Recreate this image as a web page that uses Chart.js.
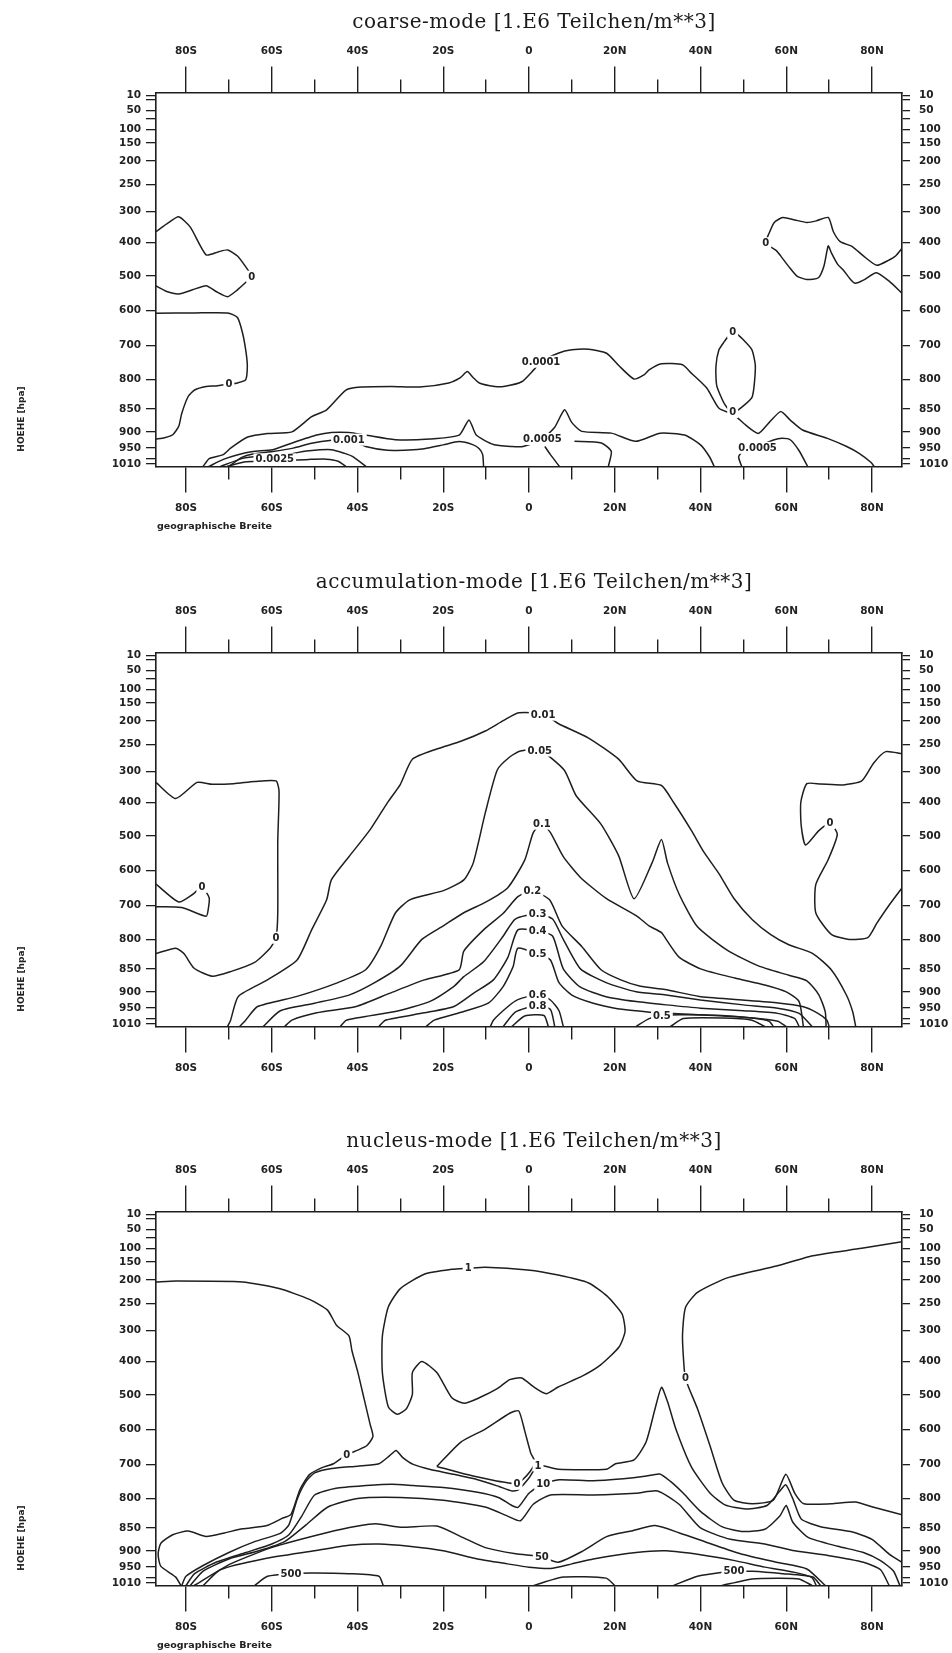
<!DOCTYPE html>
<html lang="de">
<head>
<meta charset="UTF-8">
<title>Teilchenzahl coarse / accumulation / nucleus mode</title>
<script src="https://cdn.jsdelivr.net/npm/chart.js"></script>
<style>
  body { margin: 0; background: #fff; }
  #page { position: relative; width: 952px; height: 1653px; overflow: hidden; }
  .panel { position: absolute; left: 0; width: 952px; height: 545px; }
  .panel canvas { position: absolute; left: 0; top: 0; }
  .titel { position: absolute; left: 234px; width: 600px; top: 9px; text-align: center;
           font: 20px "DejaVu Serif"; letter-spacing: 0.5px; color: #1a1a1a; white-space: nowrap; }
  .hoehe { position: absolute; left: -14px; top: 414px; width: 70px; text-align: center;
           transform: rotate(-90deg); font: bold 9px "DejaVu Sans"; color: #222; white-space: nowrap; }
  .breite { position: absolute; left: 157px; top: 520px; font: bold 9.5px "DejaVu Sans"; color: #222; white-space: nowrap; }
</style>
</head>
<body>
<div id="page">
  <div class="panel" style="top:0px">
    <canvas id="c1" width="952" height="545"></canvas>
    <div class="titel">coarse-mode [1.E6 Teilchen/m**3]</div>
    <div class="hoehe">HOEHE [hpa]</div>
    <div class="breite">geographische Breite</div>
  </div>
  <div class="panel" style="top:560px">
    <canvas id="c2" width="952" height="545"></canvas>
    <div class="titel">accumulation-mode [1.E6 Teilchen/m**3]</div>
    <div class="hoehe">HOEHE [hpa]</div>
  </div>
  <div class="panel" style="top:1119px">
    <canvas id="c3" width="952" height="545"></canvas>
    <div class="titel">nucleus-mode [1.E6 Teilchen/m**3]</div>
    <div class="hoehe">HOEHE [hpa]</div>
    <div class="breite">geographische Breite</div>
  </div>
</div>

<script>
// Achsen
const LAT_MAJOR = [-80, -60, -40, -20, 0, 20, 40, 60, 80];
const LAT_MINOR = [-70, -50, -30, -10, 10, 30, 50, 70];
const LAT_LABELS = ['80S', '60S', '40S', '20S', '0', '20N', '40N', '60N', '80N'];
const P_TICKS = [10, 30, 50, 70, 100, 150, 200, 250, 300, 400, 500, 600, 700, 800, 850, 900, 950, 990, 1010];
const P_LABELS = ['10', '', '50', '', '100', '150', '200', '250', '300', '400', '500', '600', '700', '800', '850', '900', '950', '', '1010'];

// coarse-mode: Isolinien als [Breite, Druck]
const coarseLines = [
  [[-87,365],[-84,335],[-81.7,317],[-79,350],[-75.3,437],[-72.5,428],[-70.3,422],[-68,440],[-66.1,472],[-64.7,502],[-66.1,519],[-68,540],[-70.3,560],[-73,545],[-75.3,528],[-78.5,540],[-81.7,552],[-84.5,545],[-87,529]],
  [[-87,608],[-78,607],[-70.3,607],[-68,620],[-66.8,665],[-66,720],[-65.7,762],[-66.1,801],[-68,806],[-70,808],[-73,811],[-75.3,812],[-78,818],[-79.5,829],[-81,860],[-81.7,888],[-83.1,909],[-85,918],[-87,922]],
  [[87,417],[85.5,440],[84,452],[81.1,468],[78,440],[75.4,412],[72.6,397],[71,365],[69.8,319],[67,330],[64.8,335],[62,327],[59.2,319],[57.2,335],[56,370],[55.2,402],[57.7,424],[59,445],[60.6,472],[62.5,500],[64.8,510],[67.5,505],[68.8,470],[69.8,410],[70.5,430],[72,465],[73.3,482],[75,510],[76.1,521],[78,512],[81,490],[84,515],[87,550]],
  [[47.5,656],[45.5,690],[44.3,713],[43.6,762],[43.8,811],[45.7,843],[47.5,859],[50,845],[52.1,829],[52.8,762],[52,713],[50,684],[47.5,656]],
  [[-76,1013],[-74.6,990],[-71.3,975],[-69.6,950],[-65.6,916],[-61,905],[-55.3,900],[-50.7,867],[-47.2,852],[-42.7,818],[-39.2,813],[-32,812],[-25.5,813],[-18.7,806],[-16,795],[-14.4,777],[-13,795],[-11.6,806],[-8,812],[-5.9,812],[-1.7,804],[1.1,772],[2.8,748],[6.8,723],[10,713],[13.9,711],[18.1,723],[21,760],[24.5,799],[27,785],[28,772],[30.9,754],[35.8,757],[37.9,782],[41.5,815],[44.3,849],[47.8,863],[50.5,885],[53.5,905],[56,880],[58.7,856],[61,875],[63.8,896],[69.6,920],[74.1,945],[77,970],[79.8,1005],[80.5,1013]],
  [[-74.7,1013],[-71.3,993],[-67.9,975],[-64.4,963],[-59.8,956],[-55.2,934],[-49.5,910],[-46.1,902],[-42,902],[-38.1,910],[-31.2,924],[-23.2,922],[-16.3,910],[-14,874],[-12.3,910],[-8.3,939],[-4,945],[-1.4,945],[3.1,922],[6,890],[8.3,852],[10,880],[12.3,899],[19.2,904],[24.9,929],[30.6,904],[36.3,910],[40,940],[42.1,983],[43.2,1013]],
  [[-70,1013],[-67,985],[-64.4,972],[-59.8,963],[-55,950],[-50.7,935],[-46,926],[-42,924],[-38.1,945],[-33,958],[-28,957],[-24.4,952],[-20,940],[-16.3,930],[-13,940],[-11.6,952],[-10.8,975],[-10.6,1013]],
  [[3.7,945],[5,975],[7.1,1013]],
  [[10.6,929],[16.9,934],[19.2,963],[18.5,1013]],
  [[-72,1013],[-67,990],[-63,982],[-59.3,985],[-55,970],[-51.3,960],[-46.1,956],[-43,970],[-41,983],[-38,1013]],
  [[-70.5,1013],[-66,1002],[-60,1000],[-55,996],[-51.3,993],[-47.3,992],[-44.5,1000],[-42.7,1013]],
  [[49.6,1013],[48.9,983],[50,960],[53.3,945],[57,925],[59,920],[61,925],[63,960],[65,1013]]
];
const coarseLabels = [
  ['0', -64.7, 502], ['0', -70, 808], ['0', 55.2, 402], ['0', 47.5, 662], ['0', 47.5, 857],
  ['0.0001', 2.8, 748], ['0.0005', 3.1, 922], ['0.001', -42, 924], ['0.0025', -59.3, 993], ['0.0005', 53.3, 949]
];

// accumulation-mode
const accuLines = [
  [[-87,335],[-82.4,387],[-77.4,335],[-73.9,341],[-68.9,339],[-64,332],[-59,330],[-58.3,364],[-58.6,516],[-58.6,722],[-59,795],[-60.4,815],[-64,839],[-69.6,856],[-73.9,866],[-78.1,849],[-80.5,824],[-82.4,815],[-87,824]],
  [[-87,639],[-81.7,690],[-78.4,668],[-76.3,647],[-74.6,678],[-74.8,710],[-75.3,732],[-81,706],[-87,704]],
  [[87,267],[83.2,263],[80.4,284],[77.6,330],[73.3,343],[68,340],[64.8,339],[63.4,399],[63.5,470],[64.5,526],[67.6,484],[70.2,461],[71.9,495],[69.8,568],[66.9,640],[66.9,722],[70.5,785],[74.7,800],[79,795],[81.1,753],[83.9,701],[87,650]],
  [[-70.3,1013],[-69.6,996],[-67.8,914],[-61,874],[-54.1,835],[-50.7,772],[-47.2,684],[-46.1,627],[-42,560],[-37,480],[-33,400],[-30,341],[-27.2,277],[-21.5,258],[-15.9,243],[-10.2,221],[-5.9,198],[-2.4,177],[3.3,180],[6.8,205],[13.9,236],[20.9,277],[25.2,330],[30.9,345],[33.7,399],[37.9,484],[40.8,547],[44.3,609],[47.8,680],[52.1,742],[56.3,785],[60.6,809],[66.2,824],[70.5,852],[74,909],[75.5,964],[76.2,1013]],
  [[-67.5,1013],[-66.1,996],[-63.3,945],[-54.1,914],[-44.9,881],[-38.1,852],[-34.6,812],[-31.2,723],[-27.8,684],[-19.8,657],[-15.2,627],[-13,578],[-10.2,431],[-7.4,297],[-4.5,273],[-2,262],[2.5,260],[8.2,297],[11,378],[16.7,463],[20.9,557],[24.5,681],[28.7,578],[30.9,510],[32.3,578],[35.1,670],[39.3,763],[46.4,819],[53.5,845],[60.6,864],[64.8,876],[67.6,909],[69.1,964],[69.3,1013]],
  [[-62,1013],[-58,960],[-50,935],[-42,910],[-36,880],[-30,845],[-25,800],[-20,760],[-15,720],[-10,690],[-5,650],[-1,570],[1,490],[3,463],[5,490],[8,560],[12,620],[18,680],[25,730],[28,760],[30.9,780],[32,800],[35,830],[40,850],[48,870],[55,885],[60,900],[63,930],[64,1013]],
  [[-57,1013],[-55.3,996],[-49.5,968],[-40.3,945],[-32.4,904],[-24.4,874],[-16.3,852],[-15.2,820],[-10.6,772],[-6,723],[-2.6,675],[0.8,658],[4.8,684],[7.7,760],[12.3,812],[16.8,852],[21.4,874],[26,888],[31.7,895],[39.7,914],[48.9,924],[58.1,934],[63.8,945],[67.2,968],[69.5,996],[70,1013]],
  [[-44,1013],[-42.6,996],[-31.2,963],[-23.2,930],[-17.5,888],[-15.2,867],[-10.6,838],[-6,790],[-3.2,740],[2,725],[5.5,740],[8,800],[12,850],[18,880],[25,900],[32,910],[40,925],[50,940],[58,950],[63,970],[66,1013]],
  [[-35,1013],[-33.5,996],[-24.4,968],[-17.5,945],[-12.9,904],[-8.3,874],[-4.9,830],[-2.6,772],[2,775],[5.5,790],[8,850],[12,890],[18,915],[25,930],[32,940],[40,950],[50,960],[58,970],[62,990],[63,1013]],
  [[-24,1013],[-22.1,996],[-15.2,963],[-9.4,934],[-6,888],[-3.7,846],[-2.6,815],[2,825],[5,835],[7,880],[10,910],[15,935],[20,950],[25,960],[30,968],[40,975],[50,985],[58,1000],[60,1013]],
  [[-9,1013],[-8.3,996],[-4.9,945],[-2.6,924],[2,909],[5,925],[7,960],[8,1013]],
  [[-6,1013],[-3.2,965],[2,942],[5,955],[6,1013]],
  [[-4,1013],[-1,980],[3.5,978],[4.5,1013]],
  [[25,1013],[28,990],[31,980],[35,975],[45,978],[52,988],[56,1000],[57,1013]],
  [[33,1013],[36,990],[45,988],[52,996],[55,1013]]
];
const accuLabels = [
  ['0', -76.3, 647], ['0', -59, 795], ['0', 70.2, 461],
  ['0.01', 3.3, 182], ['0.05', 2.5, 261], ['0.1', 3, 463], ['0.2', 0.8, 658], ['0.3', 2, 725],
  ['0.4', 2, 775], ['0.5', 2, 825], ['0.6', 2, 909], ['0.8', 2, 942], ['0.5', 31, 980]
];

// nucleus-mode
const nucLines = [
  [[-87,204],[-82.4,202],[-66.8,204],[-58.3,218],[-51.2,241],[-47,262],[-44.9,290],[-42,317],[-41.3,365],[-39.9,433],[-38.5,509],[-37.1,583],[-36.4,620],[-37.8,646],[-39.9,659],[-42.5,672],[-45.6,698],[-48.4,710],[-51.2,730],[-53.4,773],[-55.5,827],[-57.6,834],[-61.1,846],[-66.8,852],[-71,861],[-75.3,869],[-79.5,857],[-83.1,865],[-85.9,884],[-86.5,910],[-85.9,947],[-82.4,988],[-81.2,1013]],
  [[-14.2,167],[-10.2,164],[-0.3,172],[6.8,186],[13.9,206],[18.1,233],[21.7,269],[22.4,303],[21,353],[16.7,410],[12.5,443],[6.8,476],[4,496],[1.1,476],[-1.7,449],[-4.5,454],[-7.4,481],[-11.6,508],[-15.1,524],[-18,508],[-21.5,433],[-25,400],[-27.2,433],[-27.2,498],[-28.6,540],[-30.7,556],[-32.8,535],[-34.2,433],[-34.2,318],[-32.8,256],[-30,218],[-24.3,183],[-18,170],[-14.2,167]],
  [[87,81],[77.6,99],[66.2,126],[57.7,161],[46.4,193],[39.3,226],[36.5,257],[35.8,317],[36.2,422],[36.5,449],[37.2,476],[39.3,540],[42.2,646],[45,753],[47.8,803],[52.1,809],[57,803],[59.9,729],[62,785],[64.1,809],[70.5,809],[76.1,806],[80.4,815],[87,828]],
  [[-21.5,706],[-15.9,636],[-10.2,599],[-4.5,553],[-2.4,546],[-1,604],[0.4,667],[1.4,693],[0.3,720],[-1.5,745],[-2.8,757],[-6,752],[-10,742],[-15,728],[-21.5,706]],
  [[-81,1013],[-80,985],[-76,945],[-70,905],[-64,880],[-58,862],[-56,845],[-54,800],[-52,750],[-50,725],[-46,712],[-40,705],[-35,698],[-32.5,675],[-31,660],[-29.5,680],[-27,700],[-23,715],[-18,728],[-12,745],[-7,765],[-4,778],[-2.5,775],[0,740],[2.1,703],[6.8,714],[18.1,714],[20.2,698],[24.5,687],[27.3,636],[29.4,540],[30.9,477],[32.3,519],[34.4,604],[37.9,708],[42.2,784],[45.7,811],[50.6,818],[55.5,812],[58.4,780],[59.9,760],[61.5,800],[63.5,835],[68,848],[75,858],[80,875],[84,910],[87,935]],
  [[-80,1013],[-78,975],[-73,935],[-66,905],[-60,885],[-56,865],[-53,830],[-50,790],[-45,770],[-38,762],[-32,758],[-27,762],[-20,768],[-12,782],[-7,798],[-4,812],[-2.5,815],[0,785],[3.3,757],[7,745],[15,748],[22,742],[27,735],[30.5,728],[33,750],[36,785],[40,822],[45,848],[50,858],[55,853],[58.5,830],[60,812],[61.5,840],[65,870],[72,890],[78,905],[82,930],[85,965],[86.5,1013]],
  [[-79,1013],[-76,965],[-70,925],[-63,900],[-57,880],[-52,845],[-47,815],[-40,800],[-30,797],[-20,803],[-10,815],[-5,830],[-2,838],[1,810],[5,790],[15,790],[25,785],[30,778],[35,810],[40,850],[47,875],[55,885],[62,900],[70,915],[78,935],[82,960],[84,1013]],
  [[-78.1,1013],[-69.6,940],[-59.7,892],[-47,860],[-39.9,847],[-35.7,843],[-30,849],[-21.5,847],[-15.9,869],[-10.2,893],[-3.1,909],[3,918],[6.8,935],[12.5,901],[18.1,869],[23.8,857],[29.4,846],[35.1,861],[42.2,884],[49.3,909],[57.7,935],[64.8,957],[69.1,1013]],
  [[-76,1013],[-72,960],[-62,925],[-50,900],[-42,888],[-35,885],[-28,890],[-20,900],[-12,925],[-5,940],[0,950],[5,955],[10,940],[15,925],[25,905],[32,900],[40,912],[48,930],[55,950],[62,970],[66,990],[67,1013]],
  [[-64,1013],[-61,985],[-55.5,974],[-50,972],[-42,975],[-35,985],[-34,1013]],
  [[33.7,1013],[39.3,985],[45,970],[47.8,966],[52,966],[59.2,975],[66.2,988],[68,1013]],
  [[45,1013],[52,995],[58,992],[63,995],[66,1013]],
  [[1.1,1013],[8,988],[18,992],[20,1013]]
];
const nucLabels = [
  ['1', -14.2, 167], ['0', -42.5, 672], ['0', 36.5, 449], ['0', -2.8, 757], ['1', 2.1, 703],
  ['10', 3.3, 757], ['50', 3, 918], ['500', -55.5, 974], ['500', 47.8, 966]
];

// Druckachse: Lage der Modellflaechen im Rahmen (0 = oben, 1 = unten)
const P_LEVELS = [0, 10, 30, 50, 70, 100, 150, 200, 250, 300, 400, 500, 600, 700, 800, 850, 900, 950, 990, 1010, 1013];
const P_FRAC = [0, .0085, .0187, .0473, .070, .0994, .1354, .1835, .2463, .3184, .4012, .4907, .5828, .6763, .7671, .8459, .9073, .9509, .9789, .9928, 1];

function pFrac(p) {
  if (p <= P_LEVELS[0]) return 0;
  for (let i = 1; i < P_LEVELS.length; i++) {
    if (p <= P_LEVELS[i]) {
      const t = (p - P_LEVELS[i - 1]) / (P_LEVELS[i] - P_LEVELS[i - 1]);
      return P_FRAC[i - 1] + t * (P_FRAC[i] - P_FRAC[i - 1]);
    }
  }
  return 1;
}

class PressureScale extends Chart.LinearScale {
  determineDataLimits() { this.min = 0; this.max = 1013; }
  buildTicks() { return P_TICKS.map(v => ({ value: v })); }
  getPixelForValue(v) { return this.top + pFrac(v) * (this.bottom - this.top); }
  getValueForPixel(px) {
    const f = (px - this.top) / (this.bottom - this.top);
    for (let i = 1; i < P_FRAC.length; i++) {
      if (f <= P_FRAC[i]) {
        const t = (f - P_FRAC[i - 1]) / (P_FRAC[i] - P_FRAC[i - 1]);
        return P_LEVELS[i - 1] + t * (P_LEVELS[i] - P_LEVELS[i - 1]);
      }
    }
    return 1013;
  }
}
PressureScale.id = 'pressure';
PressureScale.defaults = {};
Chart.register(PressureScale);

// Beschriftung der Isolinien, weiss hinterlegt wie die Luecken im Original
const contourLabelPlugin = {
  id: 'contourLabels',
  afterDatasetsDraw(chart, args, opts) {
    const ctx = chart.ctx;
    const xs = chart.scales.x, ys = chart.scales.y;
    ctx.save();
    ctx.font = 'bold 10px "DejaVu Sans"';
    ctx.textAlign = 'center';
    ctx.textBaseline = 'middle';
    (opts.items || []).forEach(([txt, lat, p]) => {
      const px = xs.getPixelForValue(lat), py = ys.getPixelForValue(p);
      const w = ctx.measureText(txt).width;
      ctx.fillStyle = '#fff';
      ctx.fillRect(px - w / 2 - 2, py - 6, w + 4, 12);
      ctx.fillStyle = '#222';
      ctx.fillText(txt, px, py + 0.5);
    });
    ctx.restore();
  }
};

const INK = '#1e1e1e';
const tickFont = { family: 'DejaVu Sans', size: 10.5, weight: 'bold' };

function latAxis(position, major, height) {
  return {
    type: 'linear', position, min: -87, max: 87,
    weight: major ? 1 : 0,
    afterBuildTicks: s => { s.ticks = (major ? LAT_MAJOR : LAT_MINOR).map(v => ({ value: v })); },
    afterFit: s => { s.height = height; },
    grid: { drawOnChartArea: false, drawTicks: true, tickLength: major ? 26 : 13, color: INK, lineWidth: 1.4 },
    border: { display: major, color: INK, width: 1.6 },
    ticks: {
      display: major, autoSkip: false, maxRotation: 0, padding: 9, color: '#222', font: tickFont,
      callback: v => LAT_LABELS[LAT_MAJOR.indexOf(v)] ?? ''
    }
  };
}

function pAxis(position, width, tickLen, pad) {
  return {
    type: 'pressure', position,
    afterFit: s => { s.width = width; },
    grid: { drawOnChartArea: false, tickLength: tickLen, color: INK, lineWidth: 1.3 },
    border: { display: true, color: INK, width: 1.6 },
    ticks: {
      autoSkip: false, padding: pad, color: '#222', font: tickFont,
      callback: v => P_LABELS[P_TICKS.indexOf(v)] ?? ''
    }
  };
}

function makePanel(id, lines, labels) {
  new Chart(document.getElementById(id), {
    type: 'scatter',
    data: {
      datasets: lines.map(l => ({
        data: l.map(([lat, p]) => ({ x: lat, y: p })),
        showLine: true, borderColor: INK, borderWidth: 1.5,
        pointRadius: 0, tension: 0.2, xAxisID: 'x', yAxisID: 'y'
      }))
    },
    options: {
      responsive: false, animation: false, events: [],
      layout: { padding: 0 },
      plugins: { legend: { display: false }, tooltip: { enabled: false }, contourLabels: { items: labels } },
      scales: {
        x: latAxis('bottom', true, 545 - 466.5),
        xm: latAxis('bottom', false, 0),
        x2: latAxis('top', true, 92.5),
        x2m: latAxis('top', false, 0),
        y: pAxis('left', 156, 10, 5),
        y2: pAxis('right', 50, 8, 9)
      }
    },
    plugins: [contourLabelPlugin]
  });
}

makePanel('c1', coarseLines, coarseLabels);
makePanel('c2', accuLines, accuLabels);
makePanel('c3', nucLines, nucLabels);
</script>
</body>
</html>
